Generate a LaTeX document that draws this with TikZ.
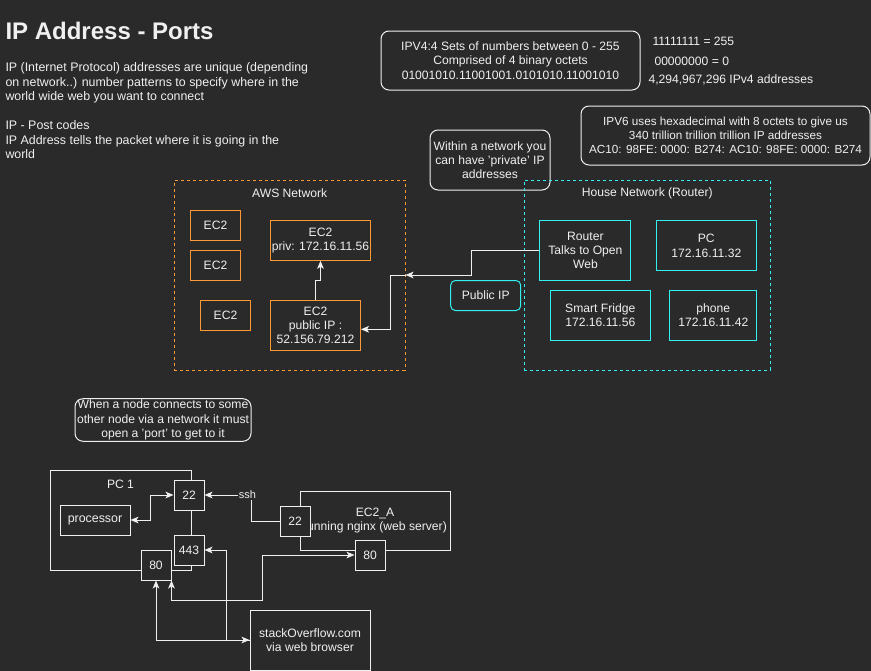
\documentclass[tikz,border=0pt]{standalone}
\usepackage{fontspec}
\setmainfont{Liberation Sans}
\usetikzlibrary{arrows.meta, positioning}
\definecolor{bg}{RGB}{42,42,42}
\definecolor{fg}{RGB}{240,240,240}
\definecolor{awsorange}{RGB}{255,153,51}
\definecolor{housecyan}{RGB}{51,240,240}

\begin{document}
\begin{tikzpicture}[x=0.75pt, y=-0.75pt, line width=0.75pt,
  >={Stealth[length=6pt, width=5pt, inset=1.5pt]},
  every node/.style={text=fg, font=\fontsize{9.1}{10.7}\selectfont},
  box/.style={draw=fg, fill=bg, align=center, inner sep=1pt},
  ec2box/.style={draw=awsorange, align=center, inner sep=1pt},
  housebox/.style={draw=housecyan, align=center, inner sep=1pt},
  note/.style={draw=fg, rounded corners=6pt, align=center, inner sep=1pt},
  network/.style={dash pattern=on 2.25pt off 2.25pt, inner sep=0pt},
  port/.style={box, minimum width=22.5pt, minimum height=22.5pt},
  wire/.style={draw=fg}]
  \useasboundingbox (0,0) rectangle (871,671);
  \fill[bg] (0,0) rectangle (871,671);
  % Heading and explanation
  \node[anchor=base west, inner sep=0pt, font=\fontsize{18}{21}\bfseries\selectfont] (title) at (5,39) {IP Address - Ports};
  \node[anchor=north west, inner sep=0pt, align=left, font=\fontsize{9.3}{10.9}\selectfont] (intro) at (5,62)
    {IP (Internet Protocol) addresses are unique (depending\\on network..) number patterns to specify where in the\\world wide web you want to connect\\[10.9pt]IP - Post codes\\IP Address tells the packet where it is going in the\\world};
  % IPv4 / IPv6 facts
  \node[note, minimum width=194.25pt, minimum height=44.25pt] (ipvfour) at (510.5,60.5)
    {IPV4:4 Sets of numbers between 0 - 255\\Comprised of 4 binary octets\\01001010.11001001.0101010.11001010};
  \node[anchor=base west, inner sep=0pt] (maxoctet) at (652,45) {11111111 = 255};
  \node[anchor=base west, inner sep=0pt] (minoctet) at (654,65) {00000000 = 0};
  \node[anchor=base west, inner sep=0pt] (ipvfourcount) at (648,83.3) {4,294,967,296 IPv4 addresses};
  \node[note, minimum width=216.75pt, minimum height=44.25pt, font=\fontsize{8.8}{10.7}\selectfont] (ipvsix) at (725.5,135.5)
    {IPV6 uses hexadecimal with 8 octets to give us\\340 trillion trillion trillion IP addresses\\AC10: 98FE: 0000: B274: AC10: 98FE: 0000: B274};
  \node[note, minimum width=90pt, minimum height=45pt] (private) at (490,160)
    {Within a network you\\can have 'private' IP\\addresses};
  % AWS network
  \node[network, draw=awsorange, minimum width=173pt, minimum height=142.5pt] (aws) at (289.7,275) {};
  \node (awslabel) at (289.7,193) {AWS Network};
  \node[ec2box, minimum width=37.5pt, minimum height=22.5pt] (econe) at (215.5,225.3) {EC2};
  \node[ec2box, minimum width=37.5pt, minimum height=22.5pt] (ectwo) at (215.5,265.3) {EC2};
  \node[ec2box, minimum width=37.5pt, minimum height=22.5pt] (ecthree) at (225.5,315.3) {EC2};
  \node[ec2box, minimum width=75pt, minimum height=30pt] (ecpriv) at (320.5,240.3) {EC2\\priv: 172.16.11.56};
  \node[ec2box, minimum width=67.5pt, minimum height=37.5pt] (ecpub) at (315.5,325.3) {EC2\\public IP :\\52.156.79.212};
  % House network
  \node[network, draw=housecyan, minimum width=184.5pt, minimum height=142.5pt] (house) at (647.3,275) {};
  \node (houselabel) at (647.3,193) {House Network (Router)};
  \node[housebox, minimum width=68.25pt, minimum height=45pt] (router) at (585.4,250.5) {Router\\Talks to Open\\Web};
  \node[housebox, minimum width=75pt, minimum height=37.5pt] (pc) at (706.3,245.7) {PC\\172.16.11.32};
  \node[housebox, minimum width=75pt, minimum height=37.5pt] (fridge) at (600.3,315.5) {Smart Fridge\\172.16.11.56};
  \node[housebox, minimum width=65pt, minimum height=37.5pt] (phone) at (713.3,315.5) {phone\\172.16.11.42};
  \node[housebox, rounded corners=3.5pt, minimum width=52.5pt, minimum height=22.5pt] (publicip) at (485.7,295.5) {Public IP};
  % Traffic into AWS
  \draw[->, fg] (router.west) -- ++(-68,0) |- (aws.east);
  \draw[->, fg] (aws.east) -- ++(-15,0) |- ([yshift=-3pt]ecpub.east);
  \draw[->, fg] (ecpub.north) -- ++(0,-19) -| (ecpriv.south);
  % Ports
  \node[note, minimum width=132pt, minimum height=30pt] (portnote) at (163,420)
    {When a node connects to some\\other node via a network it must\\open a 'port' to get to it};
  \node[box, minimum width=105.75pt, minimum height=75pt] (pcone) at (120.5,520) {};
  \node (pconelabel) at (120.5,484) {PC 1};
  \node[box, minimum width=52.5pt, minimum height=22.5pt, font=\fontsize{9.3}{10.7}\selectfont] (processor) at (95,520) {processor};
  \node[port] (pctwentytwo) at (189,495) {22};
  \node[port] (pcssl) at (189,550) {443};
  \node[port] (pceighty) at (156,565) {80};
  \node[box, minimum width=112.5pt, minimum height=44.25pt] (ecA) at (375,520.5) {EC2\_A\\running nginx (web server)};
  \node[port] (ectwentytwo) at (295,521) {22};
  \node[port] (eceighty) at (370,555) {80};
  \node[box, minimum width=90pt, minimum height=45pt] (stack) at (310,640) {stackOverflow.com\\via web browser};
  \draw[<->, fg] (processor.east) -- ++(20,0) |- (pctwentytwo.west);
  \draw[->, fg] (ectwentytwo.west) -- ++(-28,0) |- node[pos=0.5, xshift=-3pt, fill=bg, inner sep=0.5pt, font=\fontsize{8.25}{10}\selectfont] {ssh} (pctwentytwo.east);
  \draw[<->, fg] (pceighty.south) |- (stack.west);
  \draw[->, fg] (stack.west) -- ++(-23,0) |- (pcssl.east);
  \draw[<->, fg] (pceighty.south east) -- ++(0,20) -| ([xshift=-69pt]eceighty.west) -- (eceighty.west);
\end{tikzpicture}
\end{document}
